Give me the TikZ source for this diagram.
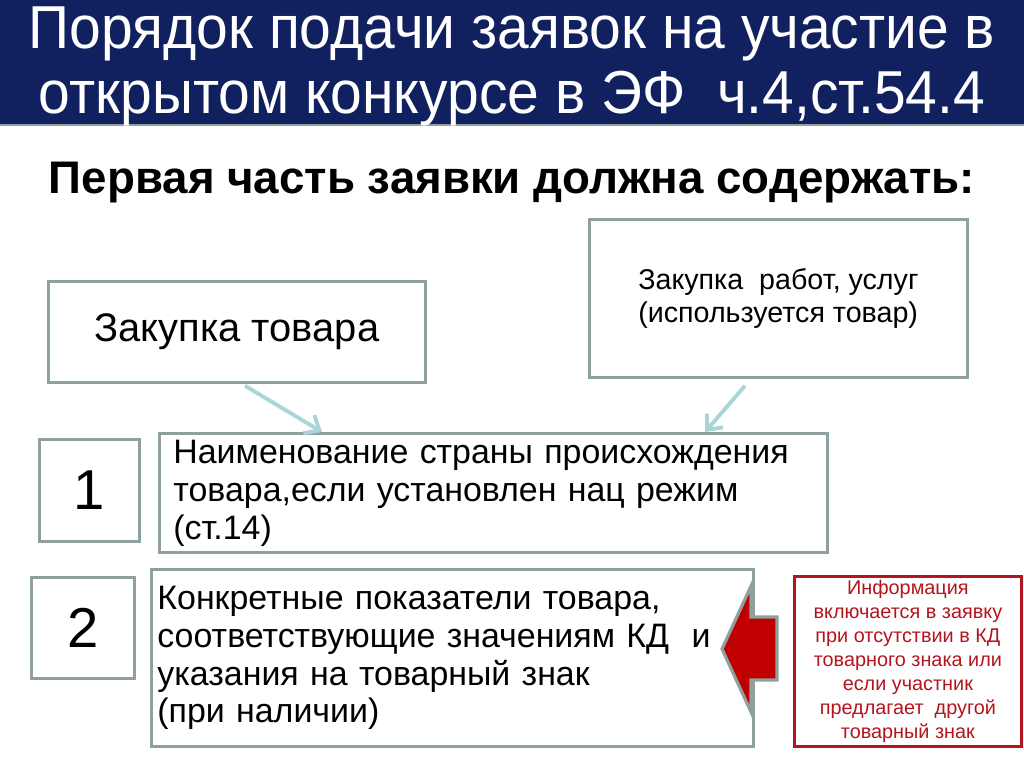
\documentclass[tikz,border=0pt]{standalone}
\usepackage{fontspec}
\setmainfont{Liberation Sans}
\newfontfamily\narrowfont[FakeStretch=0.94]{Liberation Sans}
\usetikzlibrary{arrows.meta}
\definecolor{navy}{RGB}{17,32,94}
\definecolor{boxgray}{RGB}{143,160,160}
\definecolor{lightteal}{RGB}{169,213,216}
\definecolor{darkred}{RGB}{192,0,0}
\definecolor{infored}{RGB}{180,20,30}

\begin{document}
\begin{tikzpicture}[x=0.02cm,y=-0.02cm]
            \tikzset{box/.style={draw=boxgray,line width=1.6pt,anchor=north west,inner sep=0pt},
                     numbox/.style={box,font=\fontsize{32}{32}\selectfont},
                     txtbox/.style={box,align=left,font=\fontsize{19.3}{21.6}\selectfont},
                     tealarrow/.style={draw=lightteal,line width=2.2pt,-{Straight Barb[length=7pt,width=12pt]}}}
            \useasboundingbox (0,0) rectangle (1024,767);
            % title band
            \fill [navy] (0,0) rectangle (1024,125);
            \draw [boxgray,line width=1pt] (0,125) -- (1024,125);
            \node (title) [text=white,align=center,font=\narrowfont\fontsize{34.5}{37}\selectfont] at (512,66)
                {Порядок подачи заявок на участие в\\открытом конкурсе в ЭФ\ \ ч.4,ст.54.4};
            \node (sub) [font=\bfseries\fontsize{26}{28}\selectfont] at (512,183) {Первая часть заявки должна содержать:};
            % boxes
            \node (tovar) [box,minimum width=7.54cm,minimum height=2.02cm,font=\fontsize{22.7}{26}\selectfont] at (47,280) {Закупка товара};
            \node (rabot) [box,minimum width=7.56cm,minimum height=3.16cm,align=left,font=\fontsize{16.3}{18.8}\selectfont] at (588,218)
                {Закупка\ \ работ, услуг\\(используется товар)};
            \node (one) [numbox,minimum width=2cm,minimum height=2.04cm] at (38,438) {1};
            \node (naim) [txtbox,minimum height=2.38cm,text width=12.8cm,inner xsep=0.28cm] at (158,432)
                {Наименование страны происхождения\\товара,если установлен нац режим\\(ст.14)};
            \node (two) [numbox,minimum width=2.06cm,minimum height=2.02cm] at (30,576) {2};
            \node (konk) [txtbox,minimum height=3.54cm,text width=11.8cm,inner xsep=0.12cm] at (150,568)
                {Конкретные показатели товара,\\соответствующие значениям КД\ \ и\\указания на товарный знак\\(при наличии)};
            \node (info) [box,draw=infored,minimum width=4.54cm,minimum height=3.4cm,align=center,text=infored,
                font=\fontsize{11.3}{13.6}\selectfont] at (793,575)
                {Информация\\включается в заявку\\при отсутствии в КД\\товарного знака или\\если участник\\предлагает\ \ другой\\товарный знак};
            % arrows
            \coordinate (t1) at (322,432);
            \coordinate (t2) at (705,432);
            \draw [tealarrow] (tovar.south west) ++(198,2) -- (t1);
            \draw [tealarrow] (rabot.south west) ++(157,7) -- (t2);
            \fill [darkred,draw=boxgray,line width=1.8pt] (722,649) -- (751,586) -- (751,617) -- (777,617)
                -- (777,680) -- (751,680) -- (751,712) -- cycle;
        \end{tikzpicture}
\end{document}
